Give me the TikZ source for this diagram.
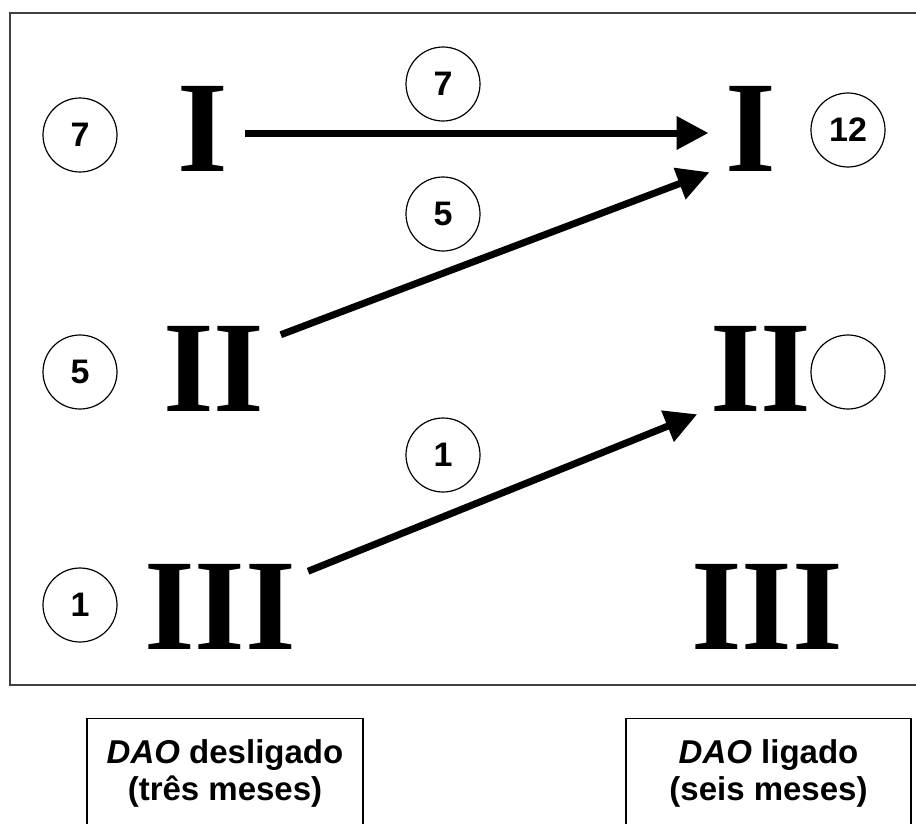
\documentclass[tikz,border=0pt]{standalone}
\usepackage{fontspec}
\setmainfont{Liberation Serif}
\setsansfont{Liberation Sans}
\usetikzlibrary{arrows.meta,calc}

\begin{document}
\begin{tikzpicture}[x=1pt,y=-1pt,
  numeral/.style={inner sep=0pt,font=\fontsize{130}{130}\selectfont\rmfamily\bfseries},
  count/.style={circle,draw,line width=1.2pt,minimum size=74pt,inner sep=0pt,
                font=\fontsize{34}{34}\selectfont\sffamily\bfseries},
  flow/.style={line width=7pt,-{Triangle[length=32pt,width=32pt]}},
  caption/.style={draw,line width=1.3pt,minimum height=110pt,anchor=north,
                  align=center,inner sep=0pt,
                  font=\fontsize{33}{37}\selectfont\sffamily\bfseries}]
  \useasboundingbox (0,0) rectangle (916,823);

  % open frame around the two columns
  \draw[black!75,line width=1.3pt] (916,13) -- (10,13) -- (10,685) -- (916,685);

  % classes before (left) and after (right)
  \node[numeral] (Il)   at (203,128.5) {I};
  \node[numeral] (IIl)  at (214,368.5) {II};
  \node[numeral] (IIIl) at (220,607)   {III};
  \node[numeral] (Ir)   at (751,128.5) {I};
  \node[numeral] (IIr)  at (761,368.5) {II};
  \node[numeral] (IIIr) at (767,607)   {III};

  % patient counts per class
  \node[count] (cIl)   at (80,135) {7};
  \node[count] (cIIl)  at (80,372) {5};
  \node[count] (cIIIl) at (80,605) {1};
  \node[count] (cIr)   at (848,130) {12};
  \node[count] (cIIr)  at (848,372) {};

  % transitions
  \draw[flow] ($(Il.east)+(17,4.5)$) -- ($(Ir.west)+(-17,4.5)$);
  \draw[flow] ($(IIl.north east)+(16,9)$) -- ($(Ir.south west)+(-16,1)$);
  \draw[flow] ($(IIIl.north east)+(12,7)$) -- ($(IIr.south west)+(-13,3)$);

  % counts on the transitions
  \node[count] (t7) at (443,84)  {7};
  \node[count] (t5) at (443,214) {5};
  \node[count] (t1) at (443,455) {1};

  % column captions
  \node[caption,minimum width=276pt] (capL) at (225,718)
    {\textit{DAO} desligado\\(três meses)};
  \node[caption,minimum width=285pt] (capR) at (768.5,718)
    {\textit{DAO} ligado\\(seis meses)};
\end{tikzpicture}
\end{document}
